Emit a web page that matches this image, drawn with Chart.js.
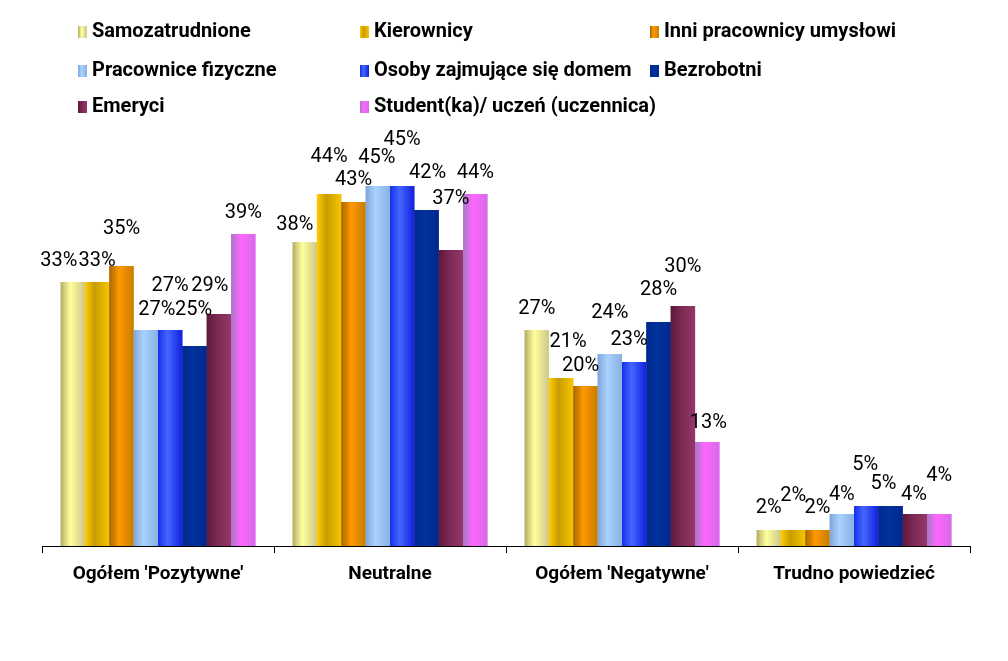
<!DOCTYPE html>
<html>
<head>
<meta charset="utf-8">
<script src="https://cdn.jsdelivr.net/npm/chart.js@4/dist/chart.umd.min.js"></script>
<style>
  body { margin: 0; background: #fff; }
  #wrap { position: relative; width: 1008px; height: 661px; }
  #legend { position: absolute; left: 0; top: 0; width: 1008px; height: 130px;
    font-family: Roboto, sans-serif; font-weight: bold; font-size: 20px; color: #000; }
  .item { position: absolute; height: 20px; line-height: 20px; white-space: nowrap; }
  .box { display: inline-block; width: 9px; height: 12px; margin-right: 5px; vertical-align: -1px; }
</style>
</head>
<body>
<div id="wrap">
  <canvas id="myChart" width="1008" height="661"></canvas>
  <div id="legend"></div>
</div>
<script>
// categories and series
var categories = ["Ogółem 'Pozytywne'", "Neutralne", "Ogółem 'Negatywne'", "Trudno powiedzieć"];
var seriesNames = [
  "Samozatrudnione",
  "Kierownicy",
  "Inni pracownicy umysłowi",
  "Pracownice fizyczne",
  "Osoby zajmujące się domem",
  "Bezrobotni",
  "Emeryci",
  "Student(ka)/ uczeń (uczennica)",
];
var samozatrudnione = [33, 38, 27, 2];
var kierownicy = [33, 44, 21, 2];
var inniUmyslowi = [35, 43, 20, 2];
var pracowniceFizyczne = [27, 45, 24, 4];
var osobyDom = [27, 45, 23, 5];
var bezrobotni = [25, 42, 28, 5];
var emeryci = [29, 37, 30, 4];
var studenci = [39, 44, 13, 4];
var seriesValues = [samozatrudnione, kierownicy, inniUmyslowi, pracowniceFizyczne, osobyDom, bezrobotni, emeryci, studenci];

// gradient stops per series: left edge, highlight, right edge
var gradients = [
  ["#B3AC68", "#FFFF9C", "#CDC78A"],
  ["#FFCC00", "#C89C00", "#F7C500"],
  ["#A66600", "#FF9900", "#C97D00"],
  ["#7FA5D9", "#A9D3FF", "#88B0E2"],
  ["#1530EC", "#4566FF", "#1120DC"],
  ["#00278C", "#00329B", "#00288E"],
  ["#5A1A3B", "#7B2751", "#94386B"],
  ["#A679C6", "#FF66FF", "#D36CE6"],
];

// label nudges [dx, dy] from the top centre of each bar
var labelNudge = [
  [[-14, -21], [-10, -17], [0, -21], [0, -22]],
  [[0, -21], [0, -37], [7, -36], [0, -34]],
  [[0, -37], [0, -22], [-5, -20], [0, -22]],
  [[11, -20], [-1, -28], [0, -41], [0, -19]],
  [[0, -44], [0, -46], [-5, -22], [-1, -41]],
  [[-1, -36], [1, -37], [0, -32], [-7, -22]],
  [[-9, -28], [0, -51], [0, -39], [-1, -19]],
  [[0, -21], [0, -21], [1, -19], [0, -38]],
];

// legend (3 columns)
var legendCols = [78, 360, 650];
var legendRows = [20, 59, 95];
var legend = document.getElementById("legend");
seriesNames.forEach(function (name, i) {
  var g = gradients[i];
  var div = document.createElement("div");
  div.className = "item";
  div.style.left = legendCols[i % 3] + "px";
  div.style.top = legendRows[Math.floor(i / 3)] + "px";
  div.innerHTML = '<span class="box" style="background:linear-gradient(to right,' +
    g[0] + "," + g[1] + " 40%," + g[2] + ')"></span>' + name;
  legend.appendChild(div);
});

// bars painted with horizontal gradients + labels
var barStyle = {
  id: "barStyle",
  afterDatasetsDraw: function (chart) {
    var ctx = chart.ctx;
    chart.data.datasets.forEach(function (ds, i) {
      var meta = chart.getDatasetMeta(i);
      var g = gradients[i];
      meta.data.forEach(function (bar, j) {
        var p = bar.getProps(["x", "y", "base", "width"], true);
        var left = p.x - p.width / 2;
        var grad = ctx.createLinearGradient(left, 0, left + p.width, 0);
        grad.addColorStop(0, g[0]);
        grad.addColorStop(0.4, g[1]);
        grad.addColorStop(1, g[2]);
        ctx.fillStyle = grad;
        ctx.fillRect(left, p.y, p.width, p.base - p.y);
      });
    });
    ctx.save();
    ctx.font = "20px Roboto, sans-serif";
    ctx.fillStyle = "#000";
    ctx.textAlign = "center";
    ctx.textBaseline = "middle";
    chart.data.datasets.forEach(function (ds, i) {
      var meta = chart.getDatasetMeta(i);
      meta.data.forEach(function (bar, j) {
        var n = labelNudge[i][j];
        ctx.fillText(ds.data[j] + "%", bar.x + n[0], bar.y + n[1]);
      });
    });
    ctx.restore();
  },
};

var ctx = document.getElementById("myChart").getContext("2d");
var myChart = new Chart(ctx, {
  type: "bar",
  data: {
    labels: categories,
    datasets: seriesValues.map(function (vals, i) {
      return {
        label: seriesNames[i],
        data: vals,
        backgroundColor: gradients[i][1],
        borderWidth: 0,
        categoryPercentage: 0.84,
        barPercentage: 1.0,
      };
    }),
  },
  options: {
    responsive: false,
    animation: false,
    layout: { padding: { left: 42, right: 38, top: 146, bottom: 0 } },
    plugins: {
      legend: { display: false },
      tooltip: { enabled: false },
    },
    scales: {
      x: {
        grid: {
          offset: true,
          drawOnChartArea: false,
          drawTicks: true,
          tickLength: 7,
          color: "#000",
        },
        border: { display: true, color: "#000", width: 1 },
        ticks: {
          color: "#000",
          padding: 10,
          font: { family: "Roboto, sans-serif", size: 19, weight: "bold" },
        },
        afterFit: function (scale) {
          scale.height = 115;
        },
      },
      y: {
        display: false,
        min: 0,
        max: 50,
      },
    },
  },
  plugins: [barStyle],
});
</script>
</body>
</html>
